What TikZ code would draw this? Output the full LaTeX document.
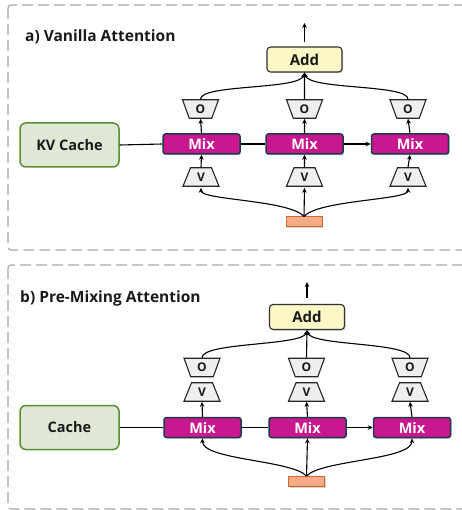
\documentclass[tikz,border=0pt]{standalone}
\usepackage{fontspec}
\setmainfont{Open Sans}
\usetikzlibrary{arrows.meta,shapes.geometric,shadows}
\definecolor{mixfill}{HTML}{C8178F}
\definecolor{mixdraw}{HTML}{1E3A48}
\definecolor{addfill}{HTML}{FBF7C6}
\definecolor{cachefill}{HTML}{DFE8D6}
\definecolor{cachedraw}{HTML}{5A8F32}
\definecolor{orfill}{HTML}{F4AB86}
\definecolor{ordraw}{HTML}{D2692F}
\definecolor{trapfill}{HTML}{EFEFEF}
\definecolor{dashgray}{HTML}{A8A8A8}
\definecolor{txt}{HTML}{1A1A1A}
\tikzset{
  shad/.style={drop shadow={shadow xshift=1.2pt,shadow yshift=-1.2pt,opacity=0.3,fill=black!60}},
  panel/.style={draw=dashgray,line width=1.1pt,dash pattern=on 11pt off 5pt,rounded corners=3pt},
  ttl/.style={anchor=west,inner sep=0pt,font=\fontsize{15.5}{17}\selectfont\bfseries,text=txt},
  mixbox/.style={shad,draw=mixdraw,fill=mixfill,line width=1.5pt,rounded corners=2.5pt,minimum width=77pt,minimum height=20pt,inner sep=0pt,text=white,font=\fontsize{14.5}{16}\selectfont\bfseries},
  addbox/.style={shad,draw=black!80,fill=addfill,line width=1.1pt,rounded corners=3.5pt,minimum width=75pt,minimum height=25pt,inner sep=0pt,text=txt,font=\fontsize{15}{16}\selectfont\bfseries},
  cachebox/.style={draw=cachedraw,fill=cachefill,line width=1.5pt,rounded corners=6pt,minimum width=99pt,minimum height=44pt,inner sep=0pt,text=txt,font=\fontsize{14.5}{16}\selectfont\bfseries},
  inbox/.style={shad,draw=ordraw,fill=orfill,line width=1pt,minimum width=36pt,minimum height=10pt,inner sep=0pt},
  trapv/.style={shape=trapezium,trapezium angle=72,trapezium stretches=true,draw=black!85,fill=trapfill,line width=1.1pt,minimum width=36pt,minimum height=18.5pt,inner sep=0pt,text=txt,font=\fontsize{12}{13}\selectfont\bfseries},
  trapo/.style={trapv,shape border rotate=180},
  conn/.style={line width=1.1pt,black},
  arr/.style={conn,-{Stealth[length=5pt,width=4.5pt]}},
}
\begin{document}
\begin{tikzpicture}[x=1pt,y=-1pt]
\useasboundingbox (0,0) rectangle (461,510);
\fill[white] (0,0) rectangle (461,510);
% ---------- panel a ----------
\draw[panel] (8,5) rectangle (475,250);
\node[ttl] (ta) at (25,37) {a) Vanilla Attention};
\node[addbox] (adda) at (304.5,59.5) {Add};
\coordinate (outa) at (304.5,23);
\node[trapo] (oa1) at (200.5,109) {O};
\node[trapo] (oa2) at (304.5,109) {O};
\node[trapo] (oa3) at (408,109) {O};
\node[mixbox] (ma1) at (201.5,144) {Mix};
\node[mixbox] (ma2) at (304.5,144) {Mix};
\node[mixbox] (ma3) at (410,144) {Mix};
\node[trapv] (va1) at (201,177) {V};
\node[trapv] (va2) at (304.5,177) {V};
\node[trapv] (va3) at (408,177) {V};
\node[cachebox] (kva) at (69.5,145) {KV Cache};
\node[inbox] (ina) at (304,222) {};
\draw[arr] ([yshift=4pt]adda.north) -- (outa);
\draw[conn] (kva.east) -- (ma1.west);
\draw[conn] (ma1.east) -- (ma2.west);
\draw[arr] (ma2.east) -- (ma3.west);
\draw[arr] (ma1.north) -- (oa1.south);
\draw[arr] (ma2.north) -- (oa2.south);
\draw[arr] (ma3.north) -- (oa3.south);
\draw[arr] (va1.north) -- (ma1.south);
\draw[arr] (va2.north) -- (ma2.south);
\draw[arr] (va3.north) -- (ma3.south);
\draw[arr] (ina.north) .. controls (290,200) and (201,200) .. ([yshift=-1pt]va1.south);
\draw[arr] (ina.north) -- ([yshift=-1pt]va2.south);
\draw[arr] (ina.north) .. controls (318,200) and (408,200) .. ([yshift=-1pt]va3.south);
\draw[arr] (oa1.north) .. controls (200.5,84) and (300,90) .. (adda.south);
\draw[arr] (oa2.north) -- (adda.south);
\draw[arr] (oa3.north) .. controls (408,84) and (309,90) .. (adda.south);
% ---------- panel b ----------
\draw[panel] (8,265) rectangle (475,509);
\node[ttl] (tb) at (20,298) {b) Pre-Mixing Attention};
\node[addbox] (addb) at (307,317) {Add};
\coordinate (outb) at (307,282);
\node[trapo] (ob1) at (202,367.5) {O};
\node[trapo] (ob2) at (306.5,367.5) {O};
\node[trapo] (ob3) at (410,367.5) {O};
\node[trapv] (vb1) at (202,392) {V};
\node[trapv] (vb2) at (306.5,392) {V};
\node[trapv] (vb3) at (410,392) {V};
\node[mixbox] (mb1) at (202.5,427.5) {Mix};
\node[mixbox] (mb2) at (307.5,427.5) {Mix};
\node[mixbox] (mb3) at (412,427.5) {Mix};
\node[cachebox] (cb) at (69.5,427.5) {Cache};
\node[inbox] (inb) at (306.5,481.5) {};
\draw[arr] ([yshift=6pt]addb.north) -- (outb);
\draw[conn] (cb.east) -- (mb1.west);
\draw[conn] (mb1.east) -- (mb2.west);
\draw[arr] (mb2.east) -- (mb3.west);
\draw[arr] (mb1.north) -- (vb1.south);
\draw[arr] (mb2.north) -- (vb2.south);
\draw[arr] (mb3.north) -- (vb3.south);
\draw[arr] (inb.north) .. controls (292,460) and (202,460) .. (mb1.south);
\draw[arr] (inb.north) -- (mb2.south);
\draw[arr] (inb.north) .. controls (321,460) and (412,460) .. (mb3.south);
\draw[arr] (ob1.north) .. controls (202,342) and (303,346) .. (addb.south);
\draw[arr] (ob2.north) -- (addb.south);
\draw[arr] (ob3.north) .. controls (410,342) and (311,346) .. (addb.south);
\end{tikzpicture}
\end{document}
